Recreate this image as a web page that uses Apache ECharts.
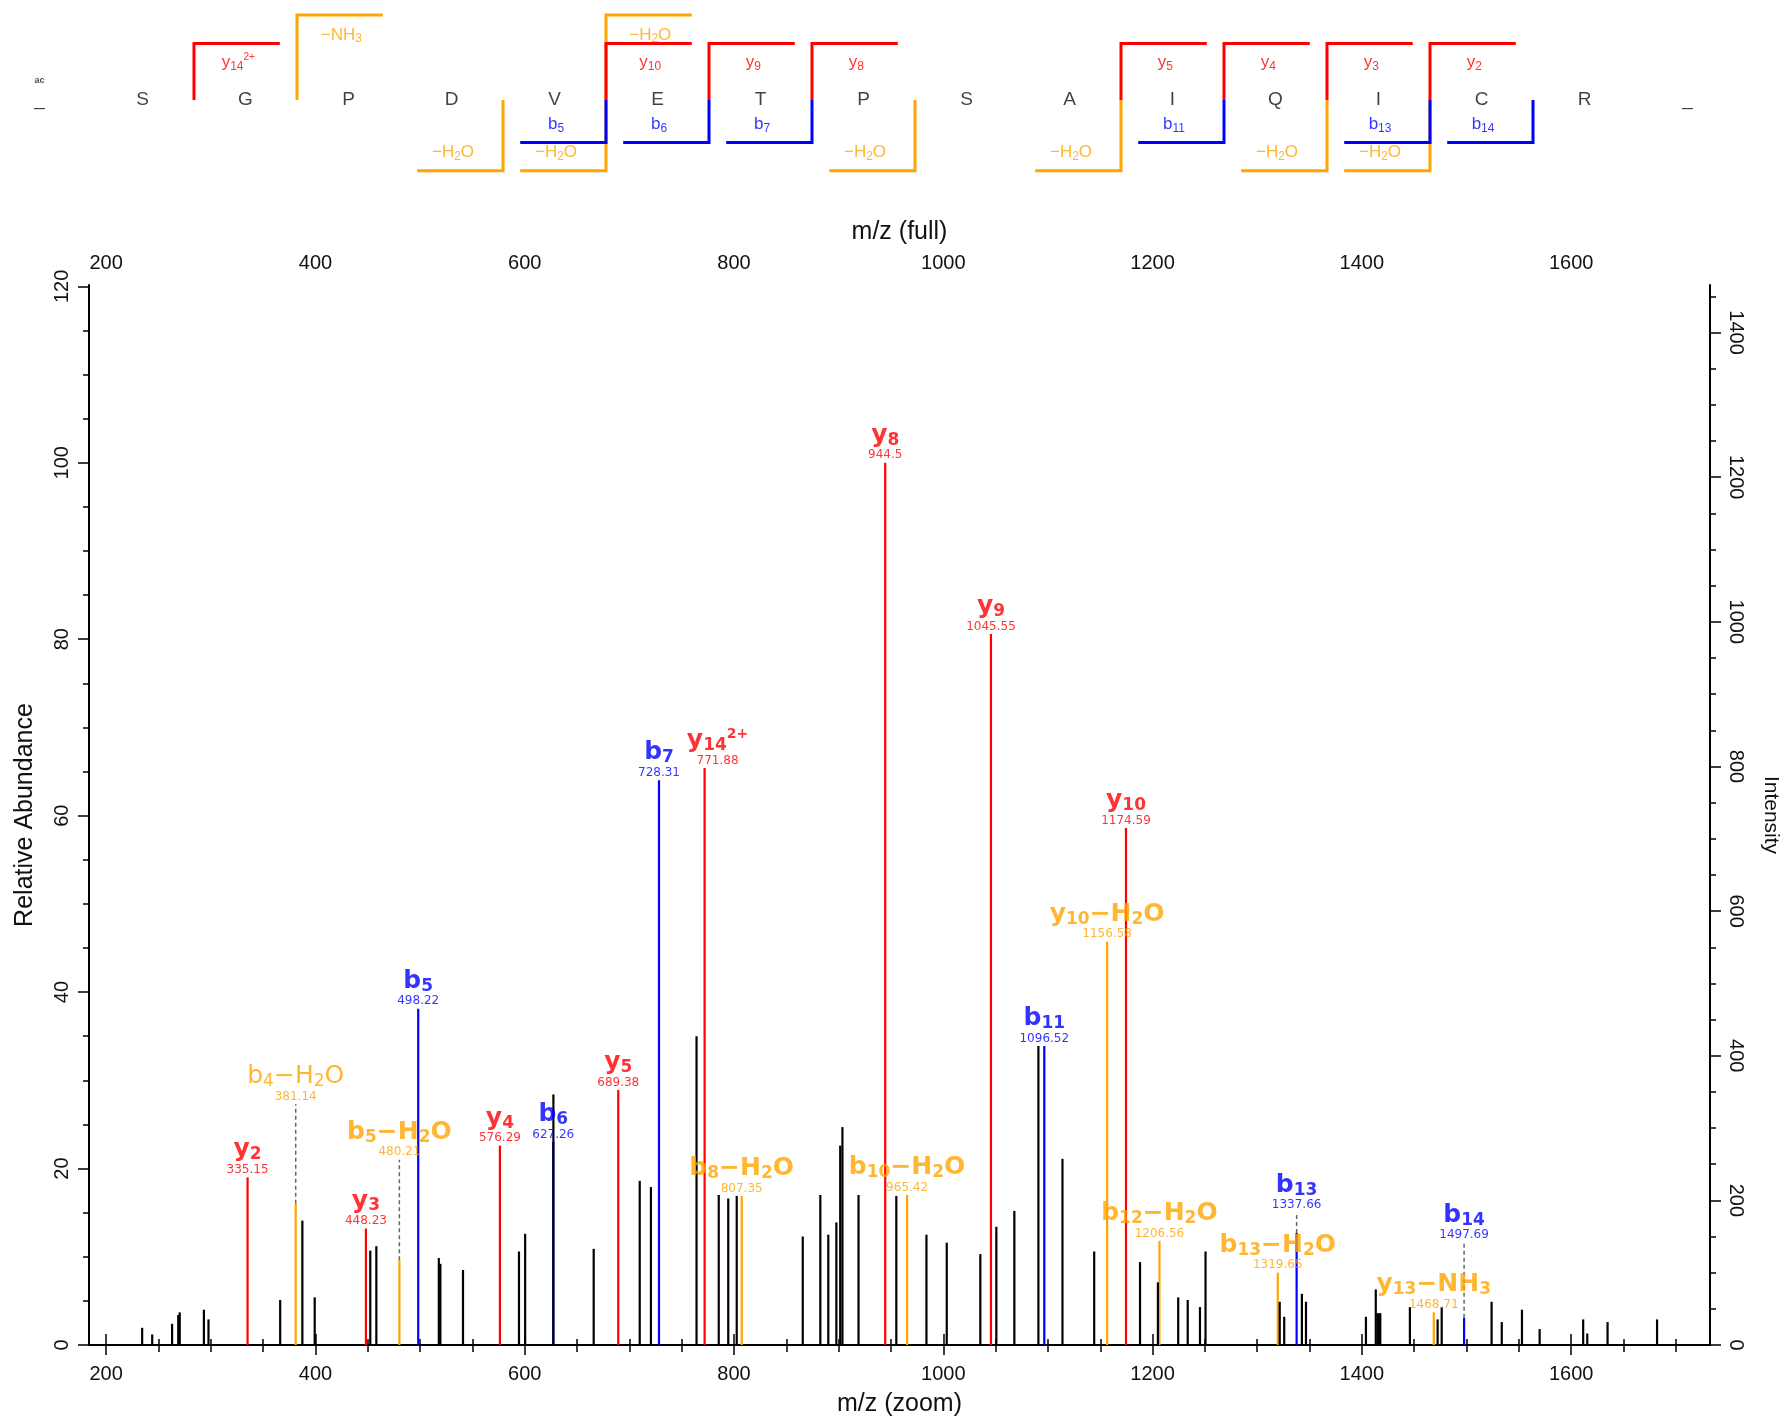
<!DOCTYPE html>
<html><head><meta charset="utf-8">
<script src="https://cdn.jsdelivr.net/npm/echarts/dist/echarts.min.js"></script>
<style>html,body{margin:0;padding:0;background:#fff}#c{width:1789px;height:1422px}</style>
</head><body><div id="c"></div>
<script>
// ---------------- data ----------------
const xTickLabels = [200, 400, 600, 800, 1000, 1200, 1400, 1600];
const relTickLabels = [0, 20, 40, 60, 80, 100, 120];
const intTickLabels = [0, 200, 400, 600, 800, 1000, 1200, 1400];
const X_MIN = 183.6, X_MAX = 1732.7;
const REL_MAX = 120.15;
const BASE_INTENSITY = 1220;          // intensity of the 100 % peak

// annotated fragment ions
const ionNames = ['y2','b4−H2O','y3','b5−H2O','b5','y4','b6','y5','b7','y14^2+','b8−H2O','y8','b10−H2O','y9','b11','y10−H2O','y10','b12−H2O','b13−H2O','b13','y13−NH3','b14'];
const ionMz    = [335.15,381.14,448.23,480.21,498.22,576.29,627.26,689.38,728.31,771.88,807.35,944.5,965.42,1045.55,1096.52,1156.58,1174.59,1206.56,1319.65,1337.66,1468.71,1497.69];
const ionRel   = [19.0,16.0,13.2,9.6,38.1,22.6,23.0,28.9,64.0,65.4,16.9,100,17.0,80.6,33.9,45.7,58.6,11.8,8.2,12.7,3.7,3.1];
const ionType  = ['y','loss','y','loss','b','y','b','y','b','y','loss','y','loss','y','b','loss','y','loss','loss','b','loss','b'];
const ionLabelAt = [19.0,27.3,13.2,21.0,38.1,22.6,23.0,28.9,64.0,65.4,16.9,100,17.0,80.6,33.9,45.7,58.6,11.8,8.2,15.0,3.7,11.6];
const ionThin  = ['b4−H2O'];

// unassigned peaks
const otherMz  = [234.4,244.0,263.0,268.9,270.3,293.4,297.8,366.3,387.5,399.3,452.4,458.2,517.9,519.4,541.0,594.5,600.4,627.4,665.9,709.9,720.6,764.2,785.4,794.5,802.6,865.7,882.5,890.1,897.8,901.5,903.6,919.0,955.1,983.9,1003.3,1035.4,1050.7,1067.9,1090.9,1113.9,1144.2,1188.0,1205.1,1224.5,1233.6,1245.3,1250.6,1321.5,1325.8,1342.7,1346.6,1403.9,1413.3,1415.0,1416.5,1417.6,1445.9,1472.4,1476.3,1524.0,1533.7,1553.0,1569.9,1611.5,1615.4,1634.8,1682.1];
const otherRel = [1.95,1.2,2.4,3.4,3.7,4.0,2.9,5.1,14.1,5.4,10.7,11.2,9.85,9.2,8.5,10.6,12.6,28.4,10.9,18.6,17.9,35.0,17.0,16.6,16.9,12.3,17.0,12.5,13.9,22.6,24.7,17.0,16.9,12.5,11.6,10.3,13.4,15.2,33.9,21.1,10.6,9.4,7.1,5.4,5.1,4.3,10.6,4.9,3.2,5.8,4.9,3.2,6.3,3.6,3.6,3.6,4.3,2.9,4.3,4.9,2.6,4.0,1.8,2.9,1.3,2.6,2.9];

// peptide sequence and fragment map
const sequence = ['_','S','G','P','D','V','E','T','P','S','A','I','Q','I','C','R','_'];
const nTermMod = 'ac';
const yBreaks = [1.5,5.5,6.5,7.5,10.5,11.5,12.5,13.5];
const yBreakLabels = ['y14^2+','y10','y9','y8','y5','y4','y3','y2'];
const yLossBreaks = [2.5,5.5];
const yLossLabels = ['−NH3','−H2O'];
const bBreaks = [5.5,6.5,7.5,11.5,13.5,14.5];
const bBreakLabels = ['b5','b6','b7','b11','b13','b14'];
const bLossBreaks = [4.5,5.5,8.5,10.5,12.5,13.5];
const bLossLabels = ['−H2O','−H2O','−H2O','−H2O','−H2O','−H2O'];

// ---------------- styling ----------------
const COLORS = { y: '#FF0000', b: '#0000FF', loss: '#FFA500', other: '#000000' };
const AX_FONT = 'Liberation Sans, Arial, sans-serif';
const ION_FONT = 'DejaVu Sans, Verdana, sans-serif';
const LABEL_NUDGE = { 'y14^2+': [13, 0] };   // label pushed aside to avoid overlap

function richName(name, prefix) {
  const parts = name.split('^');
  const runs = parts[0].match(/\d+|[^\d]+/g);
  let out = '';
  runs.forEach(r => { out += '{' + prefix + (/^\d/.test(r) ? 's' : 'n') + '|' + r + '}'; });
  if (parts[1]) out += '{' + prefix + 'p|' + parts[1] + '}';
  return out;
}

const peakRich = {};
['y', 'b', 'loss'].forEach(t => {
  ['', 'T'].forEach(w => {
    const k = t + w;
    const fw = w === 'T' ? 'normal' : 'bold';
    peakRich[k + 'n'] = { color: COLORS[t], fontFamily: ION_FONT, fontWeight: fw, fontSize: 25, lineHeight: 27 };
    peakRich[k + 's'] = { color: COLORS[t], fontFamily: ION_FONT, fontWeight: fw, fontSize: 17, lineHeight: 19, verticalAlign: 'bottom' };
    peakRich[k + 'p'] = { color: COLORS[t], fontFamily: ION_FONT, fontWeight: fw, fontSize: 14, lineHeight: 16, verticalAlign: 'top' };
    peakRich[k + 'v'] = { color: COLORS[t], fontFamily: ION_FONT, fontWeight: 'normal', fontSize: 12, lineHeight: 13, align: 'center' };
  });
});

const seqRich = {};
['y', 'b', 'loss'].forEach(t => {
  seqRich[t + 'n'] = { color: COLORS[t], fontFamily: AX_FONT, fontSize: 17, lineHeight: 20 };
  seqRich[t + 's'] = { color: COLORS[t], fontFamily: AX_FONT, fontSize: 12, lineHeight: 14, verticalAlign: 'bottom' };
  seqRich[t + 'p'] = { color: COLORS[t], fontFamily: AX_FONT, fontSize: 10, lineHeight: 12, verticalAlign: 'top' };
});

const xMinor = []; for (let v = 200; v <= 1700; v += 50) xMinor.push(v);
const relMinor = []; for (let v = 0; v <= 120; v += 5) relMinor.push(v);
const intMinor = []; for (let v = 0; v <= 1450; v += 50) intMinor.push(v);

const ARM = 0.833;
const LV = { y: 2, yLoss: 3, b: -1.5, bLoss: -2.5 };
const LBL = { y: 1.32, yLoss: 2.3, b: -0.86, bLoss: -1.86 };
const INT_MAX = REL_MAX * BASE_INTENSITY / 100;

// ---------------- chart ----------------
const chart = echarts.init(document.getElementById('c'));

const axisLineStyle = { lineStyle: { color: '#000', width: 2 } };
const tickStyle = { lineStyle: { color: '#000', width: 1.5 } };
const plain = v => String(v);

function lineRender(getColor, width, dash) {
  return function (params, api) {
    const x = api.value(0), h0 = api.value(2), h = api.value(1);
    const a = api.coord([x, h0]), b = api.coord([x, h]);
    return { type: 'line', shape: { x1: a[0], y1: a[1], x2: b[0], y2: b[1] },
      style: { stroke: getColor(params.dataIndex), lineWidth: width, lineDash: dash || null } };
  };
}

const ionPeakData = ionMz.map((m, i) => [m, ionRel[i], 0]);
const otherPeakData = otherMz.map((m, i) => [m, otherRel[i], 0]);
const connIdx = ionMz.map((m, i) => i).filter(i => ionLabelAt[i] > ionRel[i] + 0.5);
const connData = connIdx.map(i => [ionMz[i], ionLabelAt[i], ionRel[i]]);

const ionLabelData = ionMz.map((m, i) => {
  const pref = ionType[i] + (ionThin.indexOf(ionNames[i]) >= 0 ? 'T' : '');
  const lab = { formatter: richName(ionNames[i], pref) + '\n{' + pref + 'v|' + m + '}' };
  if (LABEL_NUDGE[ionNames[i]]) lab.offset = LABEL_NUDGE[ionNames[i]];
  return { value: [m, ionLabelAt[i]], label: lab };
});

const bracketGroups = [
  { breaks: bLossBreaks, level: LV.bLoss, dir: -1, color: COLORS.loss },
  { breaks: yLossBreaks, level: LV.yLoss, dir: 1, color: COLORS.loss },
  { breaks: yBreaks, level: LV.y, dir: 1, color: COLORS.y },
  { breaks: bBreaks, level: LV.b, dir: -1, color: COLORS.b }
];
const bracketData = [], bracketColors = [];
bracketGroups.forEach(g => g.breaks.forEach(b => { bracketData.push([b, g.level, g.dir]); bracketColors.push(g.color); }));

const seqLabelData = [];
function addSeqLabels(breaks, labels, type, lvl, off) {
  breaks.forEach((b, i) => seqLabelData.push({ value: [b + off, lvl], label: { formatter: richName(labels[i], type) } }));
}
addSeqLabels(yBreaks, yBreakLabels, 'y', LBL.y, 0.43);
addSeqLabels(yLossBreaks, yLossLabels, 'loss', LBL.yLoss, 0.43);
addSeqLabels(bBreaks, bBreakLabels, 'b', LBL.b, -0.485);
addSeqLabels(bLossBreaks, bLossLabels, 'loss', LBL.bLoss, -0.485);

const option = {
  animation: false,
  backgroundColor: '#fff',
  grid: [
    { left: 89, top: 285, width: 1624, height: 1067, containLabel: false },
    { left: 39.5, top: 0, width: 1648, height: 200, containLabel: false }
  ],
  xAxis: [
    { gridIndex: 0, type: 'value', position: 'bottom', min: X_MIN, max: X_MAX,
      name: 'm/z (zoom)', nameLocation: 'middle', nameGap: 47,
      nameTextStyle: { fontFamily: AX_FONT, fontSize: 25, color: '#111' },
      axisLine: axisLineStyle, splitLine: { show: false },
      axisTick: Object.assign({ customValues: xMinor, length: 7 }, tickStyle),
      axisLabel: { customValues: xTickLabels, formatter: plain, margin: 19, fontFamily: AX_FONT, fontSize: 20, color: '#111' } },
    { gridIndex: 0, type: 'value', position: 'top', min: X_MIN, max: X_MAX,
      name: 'm/z (full)', nameLocation: 'middle', nameGap: 40,
      nameTextStyle: { fontFamily: AX_FONT, fontSize: 25, color: '#111' },
      axisLine: axisLineStyle, splitLine: { show: false },
      axisTick: Object.assign({ customValues: xMinor, length: 6 }, tickStyle),
      axisLabel: { customValues: xTickLabels, formatter: plain, margin: 12, fontFamily: AX_FONT, fontSize: 20, color: '#111' } },
    { gridIndex: 0, type: 'value', position: 'bottom', min: X_MIN, max: X_MAX,
      axisLine: { show: false }, splitLine: { show: false }, axisLabel: { show: false },
      axisTick: Object.assign({ customValues: xTickLabels, length: 10 }, tickStyle) },
    { gridIndex: 0, type: 'value', position: 'top', min: X_MIN, max: X_MAX,
      axisLine: { show: false }, splitLine: { show: false }, axisLabel: { show: false },
      axisTick: Object.assign({ customValues: xTickLabels, length: 11 }, tickStyle) },
    { gridIndex: 1, type: 'value', min: 0, max: sequence.length - 1, show: false }
  ],
  yAxis: [
    { gridIndex: 0, type: 'value', position: 'left', min: 0, max: REL_MAX,
      name: 'Relative Abundance', nameLocation: 'middle', nameGap: 51, nameRotate: 90,
      nameTextStyle: { fontFamily: AX_FONT, fontSize: 25, color: '#111' },
      axisLine: axisLineStyle, splitLine: { show: false },
      axisTick: Object.assign({ customValues: relMinor, length: 6 }, tickStyle),
      axisLabel: { customValues: relTickLabels, formatter: plain, rotate: 90, margin: 17, fontFamily: AX_FONT, fontSize: 20, color: '#111' } },
    { gridIndex: 0, type: 'value', position: 'right', min: 0, max: INT_MAX,
      name: 'Intensity', nameLocation: 'middle', nameGap: 50, nameRotate: -90,
      nameTextStyle: { fontFamily: AX_FONT, fontSize: 21, color: '#111' },
      axisLine: axisLineStyle, splitLine: { show: false },
      axisTick: Object.assign({ customValues: intMinor, length: 6 }, tickStyle),
      axisLabel: { customValues: intTickLabels, formatter: plain, rotate: -90, margin: 16, fontFamily: AX_FONT, fontSize: 20, color: '#111' } },
    { gridIndex: 0, type: 'value', position: 'left', min: 0, max: REL_MAX,
      axisLine: { show: false }, splitLine: { show: false }, axisLabel: { show: false },
      axisTick: Object.assign({ customValues: relTickLabels, length: 11 }, tickStyle) },
    { gridIndex: 0, type: 'value', position: 'right', min: 0, max: INT_MAX,
      axisLine: { show: false }, splitLine: { show: false }, axisLabel: { show: false },
      axisTick: Object.assign({ customValues: intTickLabels, length: 11 }, tickStyle) },
    { gridIndex: 1, type: 'value', min: -3.534, max: 3.534, show: false }
  ],
  series: [
    { type: 'custom', name: 'assigned', xAxisIndex: 0, yAxisIndex: 0, z: 2,
      renderItem: lineRender(i => COLORS[ionType[i]], 2.2), encode: { x: 0, y: 1 }, data: ionPeakData },
    { type: 'custom', name: 'unassigned', xAxisIndex: 0, yAxisIndex: 0, z: 3,
      renderItem: lineRender(() => COLORS.other, 2.2), encode: { x: 0, y: 1 }, data: otherPeakData },
    { type: 'custom', name: 'connectors', xAxisIndex: 0, yAxisIndex: 0, z: 3,
      renderItem: lineRender(() => '#666', 1.5, [4, 3]), encode: { x: 0, y: 1 }, data: connData },
    { type: 'scatter', name: 'ionLabels', xAxisIndex: 0, yAxisIndex: 0, z: 5,
      symbolSize: 0, silent: true, data: ionLabelData,
      label: { show: true, position: 'top', distance: 1, align: 'center', rich: peakRich } },
    { type: 'custom', name: 'brackets', xAxisIndex: 4, yAxisIndex: 4, z: 2,
      encode: { x: 0, y: 1 }, data: bracketData,
      renderItem: function (params, api) {
        const b = api.value(0), lv = api.value(1), dir = api.value(2);
        const p0 = api.coord([b, 0]), p1 = api.coord([b, lv]), p2 = api.coord([b + dir * ARM, lv]);
        return { type: 'polyline', shape: { points: [p0, p1, p2] },
          style: { stroke: bracketColors[params.dataIndex], lineWidth: 3, fill: null } };
      } },
    { type: 'scatter', name: 'residues', xAxisIndex: 4, yAxisIndex: 4, z: 4, symbolSize: 0, silent: true,
      data: sequence.map((s, i) => ({ value: [i, 0], label: { formatter: s } })),
      label: { show: true, position: 'inside', fontFamily: AX_FONT, fontSize: 19, color: '#111' } },
    { type: 'scatter', name: 'nterm', xAxisIndex: 4, yAxisIndex: 4, z: 4, symbolSize: 0, silent: true,
      data: [{ value: [0, 0.7], label: { formatter: nTermMod } }],
      label: { show: true, position: 'inside', fontFamily: AX_FONT, fontSize: 9, fontWeight: 'bold', color: '#222' } },
    { type: 'scatter', name: 'fragLabels', xAxisIndex: 4, yAxisIndex: 4, z: 4, symbolSize: 0, silent: true,
      data: seqLabelData,
      label: { show: true, position: 'inside', align: 'center', rich: seqRich } }
  ]
};
chart.setOption(option);
</script></body></html>
